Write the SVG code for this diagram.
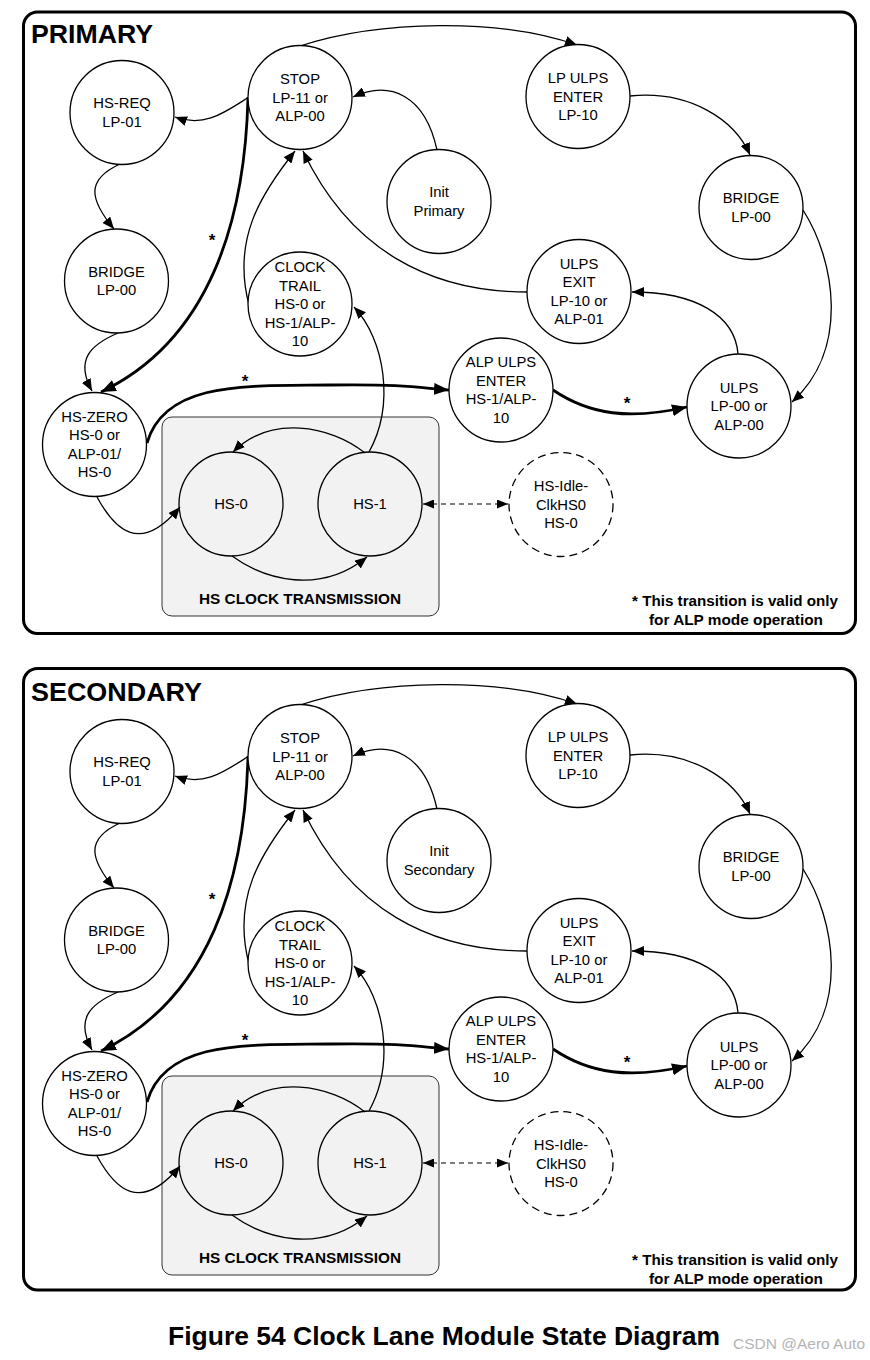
<svg xmlns="http://www.w3.org/2000/svg" width="870" height="1360" viewBox="0 0 870 1360">
  <style>
    .panel { fill: #fff; stroke: #000; stroke-width: 3; }
    .title { font-family: "Liberation Sans", Arial, sans-serif; font-weight: bold; font-size: 26px; fill: #000; }
    .state { fill: #fff; stroke: #000; stroke-width: 1.3; }
    .inner { fill: none; stroke: #000; stroke-width: 1.3; }
    .idle { fill: #fff; stroke: #000; stroke-width: 1.3; stroke-dasharray: 8 5; }
    .lbl { font-family: "Liberation Sans", Arial, sans-serif; font-size: 14.8px; text-anchor: middle; fill: #000; }
    .group-box { fill: #f2f2f2; stroke: #333; stroke-width: 1; }
    .bold { font-family: "Liberation Sans", Arial, sans-serif; font-weight: bold; font-size: 14px; fill: #000; }
    .edge { fill: none; stroke: #000; stroke-width: 1.3; marker-end: url(#ah); }
    .thick { fill: none; stroke: #000; stroke-width: 2.8; marker-end: url(#ahb); }
    .dash { fill: none; stroke: #000; stroke-width: 1.1; stroke-dasharray: 5 4; marker-end: url(#ahs); marker-start: url(#ahs); }
    .star { font-family: "Liberation Sans", Arial, sans-serif; font-weight: bold; font-size: 17px; text-anchor: middle; fill: #000; }
  </style>
  <defs>
    <marker id="ah" viewBox="0 0 12 10" refX="12" refY="5" markerWidth="12" markerHeight="10" markerUnits="userSpaceOnUse" orient="auto">
      <path d="M0,0 L12,5 L0,10 z" fill="#000"/>
    </marker>
    <marker id="ahb" viewBox="0 0 15 12" refX="15" refY="6" markerWidth="15" markerHeight="12" markerUnits="userSpaceOnUse" orient="auto">
      <path d="M0,0 L15,6 L0,12 z" fill="#000"/>
    </marker>
    <marker id="ahs" viewBox="0 0 11 9" refX="11" refY="4.5" markerWidth="11" markerHeight="9" markerUnits="userSpaceOnUse" orient="auto-start-reverse">
      <path d="M0,0 L11,4.5 L0,9 z" fill="#000"/>
    </marker>
  </defs>

  <rect width="870" height="1360" fill="#fff"/>

  <!-- ===== Primary panel ===== -->
  <g id="primary">
    <rect class="panel" x="23.5" y="12" width="832" height="621.5" rx="14"/>
    <text class="title" x="31" y="43" textLength="122" lengthAdjust="spacingAndGlyphs">PRIMARY</text>
    <rect class="group-box" x="162" y="417" width="277" height="199" rx="10"/>
    <text class="bold" x="300" y="604" text-anchor="middle" textLength="202" lengthAdjust="spacingAndGlyphs">HS CLOCK TRANSMISSION</text>

    <g id="p-connectors">
      <path class="edge" d="M249,97 C225,112 205,128 175,117"/>
      <path class="edge" d="M300,46 C380,20 500,18 577,45"/>
      <path class="edge" d="M630,96 C690,90 735,120 750,155"/>
      <path class="edge" d="M803,210 C835,260 850,350 792,402"/>
      <path class="edge" d="M738,354 C735,315 695,292 632,292"/>
      <path class="edge" d="M527,292 C430,292 350,250 303,151"/>
      <path class="edge" d="M437,150 C425,95 390,80 353,97"/>
      <path class="edge" d="M249,305 C232,240 260,195 295,151"/>
      <path class="edge" d="M369,452 C395,405 385,340 354,307"/>
      <path class="edge" d="M365,453 C330,425 270,415 233,452"/>
      <path class="edge" d="M232,556 C265,580 320,595 367,557"/>
      <path class="edge" d="M97,497 C115,530 140,555 180,507"/>
      <path class="edge" d="M120,164 C85,180 90,200 114,229"/>
      <path class="edge" d="M118,333 C90,345 75,360 92,391"/>
      <path class="thick" d="M147,443 C165,380 250,386 330,385 S420,388 449,390"/>
      <path class="thick" d="M553,390 C590,415 630,420 687,407"/>
      <path class="thick" d="M248,97 C245,220 210,340 101,392"/>
      <path class="dash" d="M423,504 L508,504"/>
      <text class="star" x="212" y="246">*</text>
      <text class="star" x="245" y="387">*</text>
      <text class="star" x="627" y="409">*</text>
    </g>

    <g id="p-stop"><circle class="state" cx="300" cy="97.5" r="52"/>
      <text class="lbl"><tspan x="300" y="84">STOP</tspan><tspan x="300" y="102.5">LP-11 or</tspan><tspan x="300" y="121">ALP-00</tspan></text></g>
    <g id="p-hsreq"><circle class="state" cx="122" cy="112.5" r="52"/>
      <text class="lbl"><tspan x="122" y="108">HS-REQ</tspan><tspan x="122" y="126.5">LP-01</tspan></text></g>
    <g id="p-bridge1"><circle class="state" cx="116.5" cy="281" r="52"/>
      <text class="lbl"><tspan x="116.5" y="276.5">BRIDGE</tspan><tspan x="116.5" y="295">LP-00</tspan></text></g>
    <g id="p-clocktrail"><circle class="state" cx="300" cy="304" r="52"/>
      <text class="lbl"><tspan x="300" y="272">CLOCK</tspan><tspan x="300" y="290.5">TRAIL</tspan><tspan x="300" y="309">HS-0 or</tspan><tspan x="300" y="327.5">HS-1/ALP-</tspan><tspan x="300" y="346">10</tspan></text></g>
    <g id="p-init"><circle class="state" cx="439" cy="201.5" r="52"/>
      <text class="lbl"><tspan x="439" y="197">Init</tspan><tspan x="439" y="215.5">Primary</tspan></text></g>
    <g id="p-lpulps"><circle class="state" cx="578" cy="96.5" r="52"/>
      <text class="lbl"><tspan x="578" y="83">LP ULPS</tspan><tspan x="578" y="101.5">ENTER</tspan><tspan x="578" y="120">LP-10</tspan></text></g>
    <g id="p-bridge2"><circle class="state" cx="751" cy="207.5" r="52"/>
      <text class="lbl"><tspan x="751" y="203">BRIDGE</tspan><tspan x="751" y="221.5">LP-00</tspan></text></g>
    <g id="p-ulpsexit"><circle class="state" cx="579" cy="291.5" r="52"/>
      <text class="lbl"><tspan x="579" y="268.75">ULPS</tspan><tspan x="579" y="287.25">EXIT</tspan><tspan x="579" y="305.75">LP-10 or</tspan><tspan x="579" y="324.25">ALP-01</tspan></text></g>
    <g id="p-hszero"><circle class="state" cx="94.5" cy="444.5" r="52"/>
      <text class="lbl"><tspan x="94.5" y="421.75">HS-ZERO</tspan><tspan x="94.5" y="440.25">HS-0 or</tspan><tspan x="94.5" y="458.75">ALP-01/</tspan><tspan x="94.5" y="477.25">HS-0</tspan></text></g>
    <g id="p-hs0"><circle class="inner" cx="231" cy="504" r="52"/>
      <text class="lbl" x="231" y="509">HS-0</text></g>
    <g id="p-hs1"><circle class="inner" cx="370" cy="504" r="52"/>
      <text class="lbl" x="370" y="509">HS-1</text></g>
    <g id="p-alpulps"><circle class="state" cx="501" cy="390" r="52"/>
      <text class="lbl"><tspan x="501" y="367.25">ALP ULPS</tspan><tspan x="501" y="385.75">ENTER</tspan><tspan x="501" y="404.25">HS-1/ALP-</tspan><tspan x="501" y="422.75">10</tspan></text></g>
    <g id="p-ulps"><circle class="state" cx="739" cy="406" r="52"/>
      <text class="lbl"><tspan x="739" y="392.5">ULPS</tspan><tspan x="739" y="411">LP-00 or</tspan><tspan x="739" y="429.5">ALP-00</tspan></text></g>
    <g id="p-hsidle"><circle class="idle" cx="561" cy="504.5" r="52"/>
      <text class="lbl"><tspan x="561" y="491">HS-Idle-</tspan><tspan x="561" y="509.5">ClkHS0</tspan><tspan x="561" y="528">HS-0</tspan></text></g>

    <text class="bold" x="735" y="606" text-anchor="middle" textLength="206" lengthAdjust="spacingAndGlyphs">* This transition is valid only</text>
    <text class="bold" x="736" y="625" text-anchor="middle" textLength="174" lengthAdjust="spacingAndGlyphs">for ALP mode operation</text>
  </g>

  <!-- ===== Secondary panel ===== -->
  <g id="secondary" transform="translate(0,659)">
    <rect class="panel" x="23.5" y="9.5" width="832" height="621.5" rx="14"/>
    <text class="title" x="31" y="42" textLength="171" lengthAdjust="spacingAndGlyphs">SECONDARY</text>
    <rect class="group-box" x="162" y="417" width="277" height="199" rx="10"/>
    <text class="bold" x="300" y="604" text-anchor="middle" textLength="202" lengthAdjust="spacingAndGlyphs">HS CLOCK TRANSMISSION</text>

    <g id="s-connectors">
      <path class="edge" d="M249,97 C225,112 205,128 175,117"/>
      <path class="edge" d="M300,46 C380,20 500,18 577,45"/>
      <path class="edge" d="M630,96 C690,90 735,120 750,155"/>
      <path class="edge" d="M803,210 C835,260 850,350 792,402"/>
      <path class="edge" d="M738,354 C735,315 695,292 632,292"/>
      <path class="edge" d="M527,292 C430,292 350,250 303,151"/>
      <path class="edge" d="M437,150 C425,95 390,80 353,97"/>
      <path class="edge" d="M249,305 C232,240 260,195 295,151"/>
      <path class="edge" d="M369,452 C395,405 385,340 354,307"/>
      <path class="edge" d="M365,453 C330,425 270,415 233,452"/>
      <path class="edge" d="M232,556 C265,580 320,595 367,557"/>
      <path class="edge" d="M97,497 C115,530 140,555 180,507"/>
      <path class="edge" d="M120,164 C85,180 90,200 114,229"/>
      <path class="edge" d="M118,333 C90,345 75,360 92,391"/>
      <path class="thick" d="M147,443 C165,380 250,386 330,385 S420,388 449,390"/>
      <path class="thick" d="M553,390 C590,415 630,420 687,407"/>
      <path class="thick" d="M248,97 C245,220 210,340 101,392"/>
      <path class="dash" d="M423,504 L508,504"/>
      <text class="star" x="212" y="246">*</text>
      <text class="star" x="245" y="387">*</text>
      <text class="star" x="627" y="409">*</text>
    </g>

    <g id="s-stop"><circle class="state" cx="300" cy="97.5" r="52"/>
      <text class="lbl"><tspan x="300" y="84">STOP</tspan><tspan x="300" y="102.5">LP-11 or</tspan><tspan x="300" y="121">ALP-00</tspan></text></g>
    <g id="s-hsreq"><circle class="state" cx="122" cy="112.5" r="52"/>
      <text class="lbl"><tspan x="122" y="108">HS-REQ</tspan><tspan x="122" y="126.5">LP-01</tspan></text></g>
    <g id="s-bridge1"><circle class="state" cx="116.5" cy="281" r="52"/>
      <text class="lbl"><tspan x="116.5" y="276.5">BRIDGE</tspan><tspan x="116.5" y="295">LP-00</tspan></text></g>
    <g id="s-clocktrail"><circle class="state" cx="300" cy="304" r="52"/>
      <text class="lbl"><tspan x="300" y="272">CLOCK</tspan><tspan x="300" y="290.5">TRAIL</tspan><tspan x="300" y="309">HS-0 or</tspan><tspan x="300" y="327.5">HS-1/ALP-</tspan><tspan x="300" y="346">10</tspan></text></g>
    <g id="s-init"><circle class="state" cx="439" cy="201.5" r="52"/>
      <text class="lbl"><tspan x="439" y="197">Init</tspan><tspan x="439" y="215.5">Secondary</tspan></text></g>
    <g id="s-lpulps"><circle class="state" cx="578" cy="96.5" r="52"/>
      <text class="lbl"><tspan x="578" y="83">LP ULPS</tspan><tspan x="578" y="101.5">ENTER</tspan><tspan x="578" y="120">LP-10</tspan></text></g>
    <g id="s-bridge2"><circle class="state" cx="751" cy="207.5" r="52"/>
      <text class="lbl"><tspan x="751" y="203">BRIDGE</tspan><tspan x="751" y="221.5">LP-00</tspan></text></g>
    <g id="s-ulpsexit"><circle class="state" cx="579" cy="291.5" r="52"/>
      <text class="lbl"><tspan x="579" y="268.75">ULPS</tspan><tspan x="579" y="287.25">EXIT</tspan><tspan x="579" y="305.75">LP-10 or</tspan><tspan x="579" y="324.25">ALP-01</tspan></text></g>
    <g id="s-hszero"><circle class="state" cx="94.5" cy="444.5" r="52"/>
      <text class="lbl"><tspan x="94.5" y="421.75">HS-ZERO</tspan><tspan x="94.5" y="440.25">HS-0 or</tspan><tspan x="94.5" y="458.75">ALP-01/</tspan><tspan x="94.5" y="477.25">HS-0</tspan></text></g>
    <g id="s-hs0"><circle class="inner" cx="231" cy="504" r="52"/>
      <text class="lbl" x="231" y="509">HS-0</text></g>
    <g id="s-hs1"><circle class="inner" cx="370" cy="504" r="52"/>
      <text class="lbl" x="370" y="509">HS-1</text></g>
    <g id="s-alpulps"><circle class="state" cx="501" cy="390" r="52"/>
      <text class="lbl"><tspan x="501" y="367.25">ALP ULPS</tspan><tspan x="501" y="385.75">ENTER</tspan><tspan x="501" y="404.25">HS-1/ALP-</tspan><tspan x="501" y="422.75">10</tspan></text></g>
    <g id="s-ulps"><circle class="state" cx="739" cy="406" r="52"/>
      <text class="lbl"><tspan x="739" y="392.5">ULPS</tspan><tspan x="739" y="411">LP-00 or</tspan><tspan x="739" y="429.5">ALP-00</tspan></text></g>
    <g id="s-hsidle"><circle class="idle" cx="561" cy="504.5" r="52"/>
      <text class="lbl"><tspan x="561" y="491">HS-Idle-</tspan><tspan x="561" y="509.5">ClkHS0</tspan><tspan x="561" y="528">HS-0</tspan></text></g>

    <text class="bold" x="735" y="606" text-anchor="middle" textLength="206" lengthAdjust="spacingAndGlyphs">* This transition is valid only</text>
    <text class="bold" x="736" y="624.5" text-anchor="middle" textLength="174" lengthAdjust="spacingAndGlyphs">for ALP mode operation</text>
  </g>

  <!-- caption -->
  <text class="title" x="168" y="1345" font-size="25.5" textLength="552" lengthAdjust="spacingAndGlyphs">Figure 54 Clock Lane Module State Diagram</text>
  <text x="733" y="1349" font-family="Liberation Sans, Arial, sans-serif" font-size="15" fill="#b4b4b4" textLength="132" lengthAdjust="spacingAndGlyphs">CSDN @Aero Auto</text>
</svg>
